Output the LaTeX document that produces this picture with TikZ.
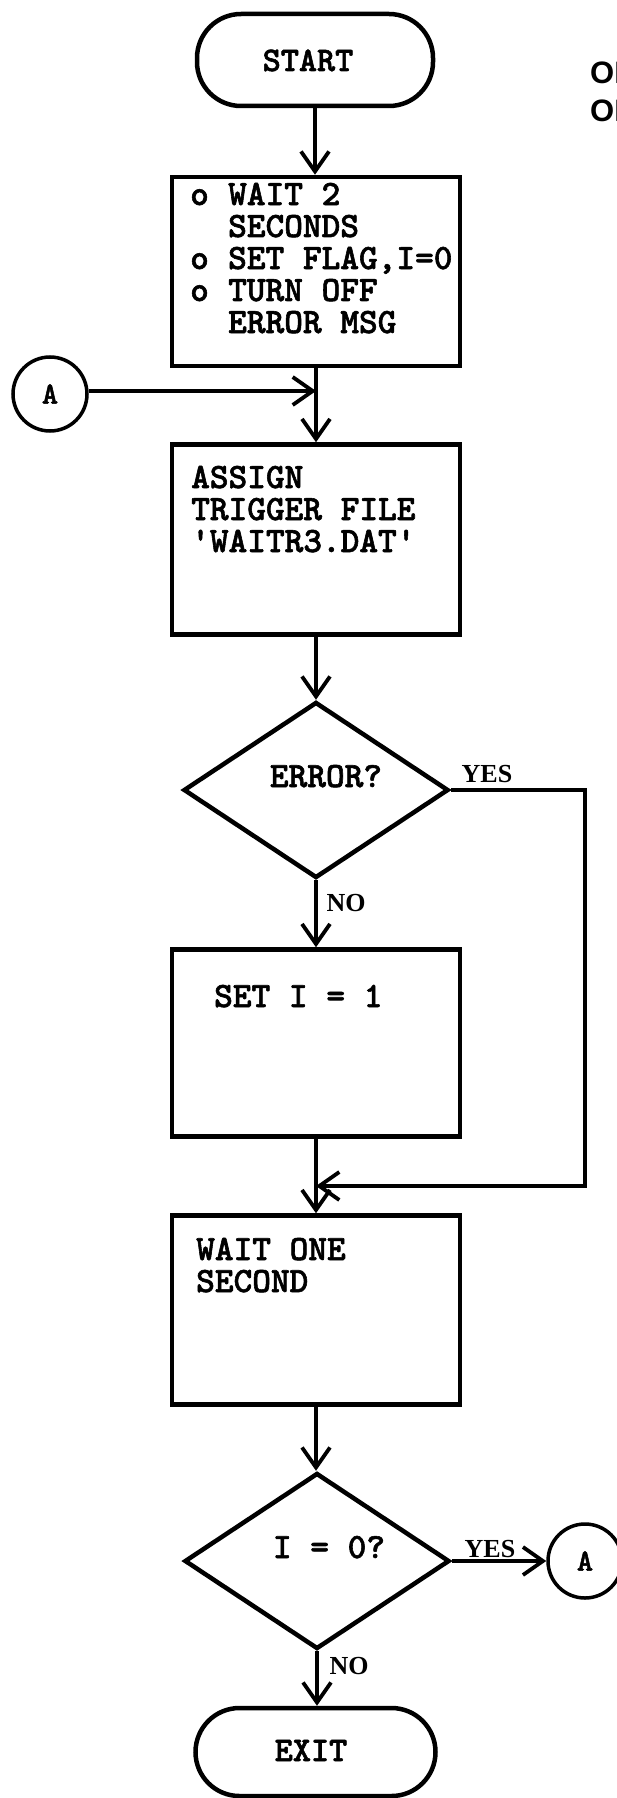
\documentclass[tikz,border=0pt]{standalone}
\usepackage{fontspec}
\newfontfamily\lbsans{Liberation Sans}
\newfontfamily\lbserif{Liberation Serif}
\newfontfamily\twbold{lmmonolt10-bold.otf}[FakeBold=1.6]
\usetikzlibrary{shapes.geometric,arrows.meta,calc}
\begin{document}
\begin{tikzpicture}[x=1pt,y=-1pt,
  shp/.style={draw, line width=4.5pt, inner sep=0pt},
  box/.style={shp, rectangle, minimum width=288pt},
  term/.style={shp, rectangle, rounded corners=44pt},
  dia/.style={shp, diamond, minimum width=265pt, minimum height=176pt},
  conn/.style={draw, circle, line width=3.5pt, minimum size=74pt, inner sep=0pt, font=\twbold\fontsize{31}{32}\selectfont},
  txt/.style={inner sep=0pt, font=\twbold\fontsize{35.6}{32}\selectfont},
  ttl/.style={inner sep=0pt, font=\twbold\fontsize{34.5}{36}\selectfont},
  lbl/.style={inner sep=0pt, font=\lbserif\bfseries\fontsize{26}{28}\selectfont},
  stamp/.style={inner sep=0pt, align=left, font=\lbsans\bfseries\fontsize{31}{38}\selectfont},
  flow/.style={line width=3.8pt, -{Straight Barb[length=20pt,width=28pt]}},
]
\useasboundingbox[fill=white] (0,0) rectangle (616,1798);

% stamp (cut by the page edge, as in the scan)
\node[stamp, anchor=base west] (stampA) at (590,122) {ORIGINAL PAGE IS\\OF POOR QUALITY};

% shapes
\node[term, minimum width=236pt, minimum height=92pt] (start) at (315,60) {};
\node[ttl, anchor=base] (startT) at (308,71) {START};

\node[box, minimum height=189pt] (b1) at (316,271.5) {};
\node[txt, anchor=base west] (t1) at (190,205) {\begin{tabular}[t]{@{}l@{}}%
\makebox[38pt][l]{o}WAIT 2\\
\hspace*{38pt}SECONDS\\
\makebox[38pt][l]{o}SET FLAG,I=0\\
\makebox[38pt][l]{o}TURN OFF\\
\hspace*{38pt}ERROR MSG\end{tabular}};

\node[conn] (cA) at (50,394) {A};
\coordinate (j1) at (316,391);

\node[box, minimum height=190pt] (b2) at (316,539.5) {};
\node[txt, anchor=base west] (t2) at (191,488) {\begin{tabular}[t]{@{}l@{}}%
ASSIGN\\
TRIGGER FILE\\
\textquotesingle WAITR3.DAT\textquotesingle\end{tabular}};

\node[dia] (d1) at (316,790) {};
\node[txt, anchor=base] (d1T) at (326,787) {ERROR?};
\node[lbl, anchor=base] (yes1) at (487,782) {YES};
\node[lbl, anchor=base] (no1) at (346,911) {NO};
\coordinate (yc) at (585,790);
\coordinate (m1) at (316,1186);

\node[box, minimum height=187pt] (b3) at (316,1043) {};
\node[txt, anchor=base west] (t3) at (214,1007) {SET I = 1};

\node[box, minimum height=189pt] (b4) at (316,1310) {};
\node[txt, anchor=base west] (t4) at (196,1260) {\begin{tabular}[t]{@{}l@{}}%
WAIT ONE\\
SECOND\end{tabular}};

\node[dia] (d2) at (317,1561) {};
\node[txt, anchor=base] (d2T) at (329,1558) {I = 0?};
\node[lbl, anchor=base] (yes2) at (490,1557) {YES};
\node[lbl, anchor=base] (no2) at (349,1674) {NO};
\node[conn] (cA2) at (585,1561) {A};

\node[term, minimum width=240pt, minimum height=88pt] (exit) at (315.5,1752) {};
\node[ttl, anchor=base] (exitT) at (311,1761) {EXIT};

% connectors
\draw[flow] (start.south) -- (start.south |- b1.north);
\draw[flow] (b1.south) -- (b2.north);
\draw[flow] (cA.east |- j1) -- (j1);
\draw[flow] (b2.south) -- (d1.north);
\draw[flow] (d1.south) -- (b3.north);
\draw[flow] (d1.east) -- (yc) |- (m1);
\draw[flow] (b3.south) -- (b4.north);
\draw[flow] (b4.south) -- (b4.south |- d2.north);
\draw[flow] (d2.east) -- (cA2.west);
\draw[flow] (d2.south) -- (d2.south |- exit.north);
\end{tikzpicture}
\end{document}
